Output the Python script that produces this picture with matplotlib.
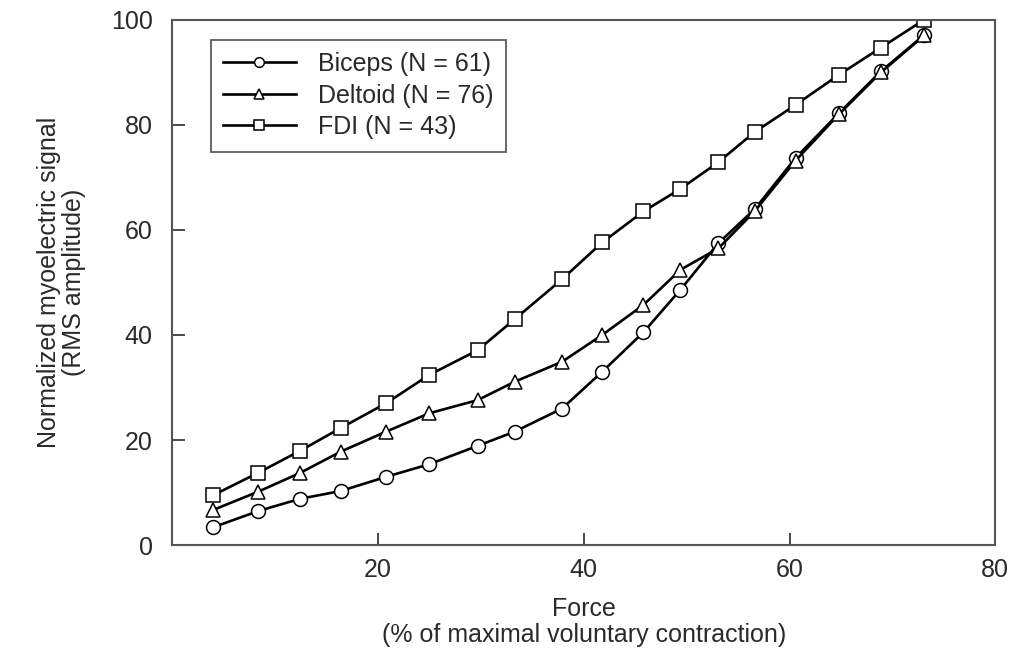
import matplotlib
matplotlib.use("Agg")
import matplotlib.pyplot as plt

# force (% MVC) and normalized RMS amplitude
force = [4.0, 8.4, 12.4, 16.4, 20.8, 25.0, 29.7, 33.3, 37.9, 41.8,
         45.8, 49.4, 53.1, 56.6, 60.6, 64.8, 68.9, 73.1]
biceps = [3.4, 6.5, 8.8, 10.3, 13.0, 15.4, 18.9, 21.6, 26.0, 33.0,
          40.5, 48.6, 57.5, 63.9, 73.7, 82.2, 90.2, 97.1]
deltoid = [6.7, 10.2, 13.7, 17.8, 21.6, 25.1, 27.6, 31.1, 34.9, 40.0,
           45.7, 52.4, 56.5, 63.5, 73.2, 82.0, 90.0, 97.0]
fdi = [9.5, 13.8, 17.9, 22.3, 27.0, 32.4, 37.1, 43.0, 50.6, 57.6,
       63.5, 67.8, 72.9, 78.6, 83.8, 89.5, 94.7, 100.0]

series = [
    ("Biceps (N = 61)", biceps, "o"),
    ("Deltoid (N = 76)", deltoid, "^"),
    ("FDI (N = 43)", fdi, "s"),
]

plt.rcParams["font.family"] = ["Liberation Sans", "DejaVu Sans"]

fig = plt.figure(figsize=(10.24, 6.56), dpi=100)
ax = fig.add_axes([0.168, 0.169, 0.804, 0.801])

for label, vals, mk in series:
    ax.plot(force, vals, color="black", lw=1.9, marker=mk, markersize=10,
            markerfacecolor="white", markeredgecolor="black", markeredgewidth=1.1,
            label=label)

ax.set_xlim(0, 80)
ax.set_ylim(0, 100)
ax.set_xticks([20, 40, 60, 80])
ax.set_yticks([0, 20, 40, 60, 80, 100])
ax.tick_params(direction="in", length=9, width=1.2, labelsize=18, colors="#2a2a2a")
ax.tick_params(axis="x", pad=9)
ax.tick_params(axis="y", pad=14)
for sp in ax.spines.values():
    sp.set_color("#555555")
    sp.set_linewidth(1.5)

ax.set_xlabel("Force\n(% of maximal voluntary contraction)", fontsize=18,
              color="#2a2a2a", labelpad=11, linespacing=1.1)
ax.set_ylabel("Normalized myoelectric signal\n(RMS amplitude)", fontsize=18,
              color="#2a2a2a", labelpad=18, linespacing=1.05)

leg = ax.legend(loc="upper left", bbox_to_anchor=(0.047, 0.962), borderaxespad=0,
                fancybox=False, edgecolor="#333333", fontsize=18, markerscale=0.7,
                handlelength=2.9, labelspacing=0.3, borderpad=0.5, handletextpad=0.9)
leg.get_frame().set_linewidth(1.3)
for t in leg.get_texts():
    t.set_color("#2a2a2a")

fig.savefig("out.png", dpi=100)
